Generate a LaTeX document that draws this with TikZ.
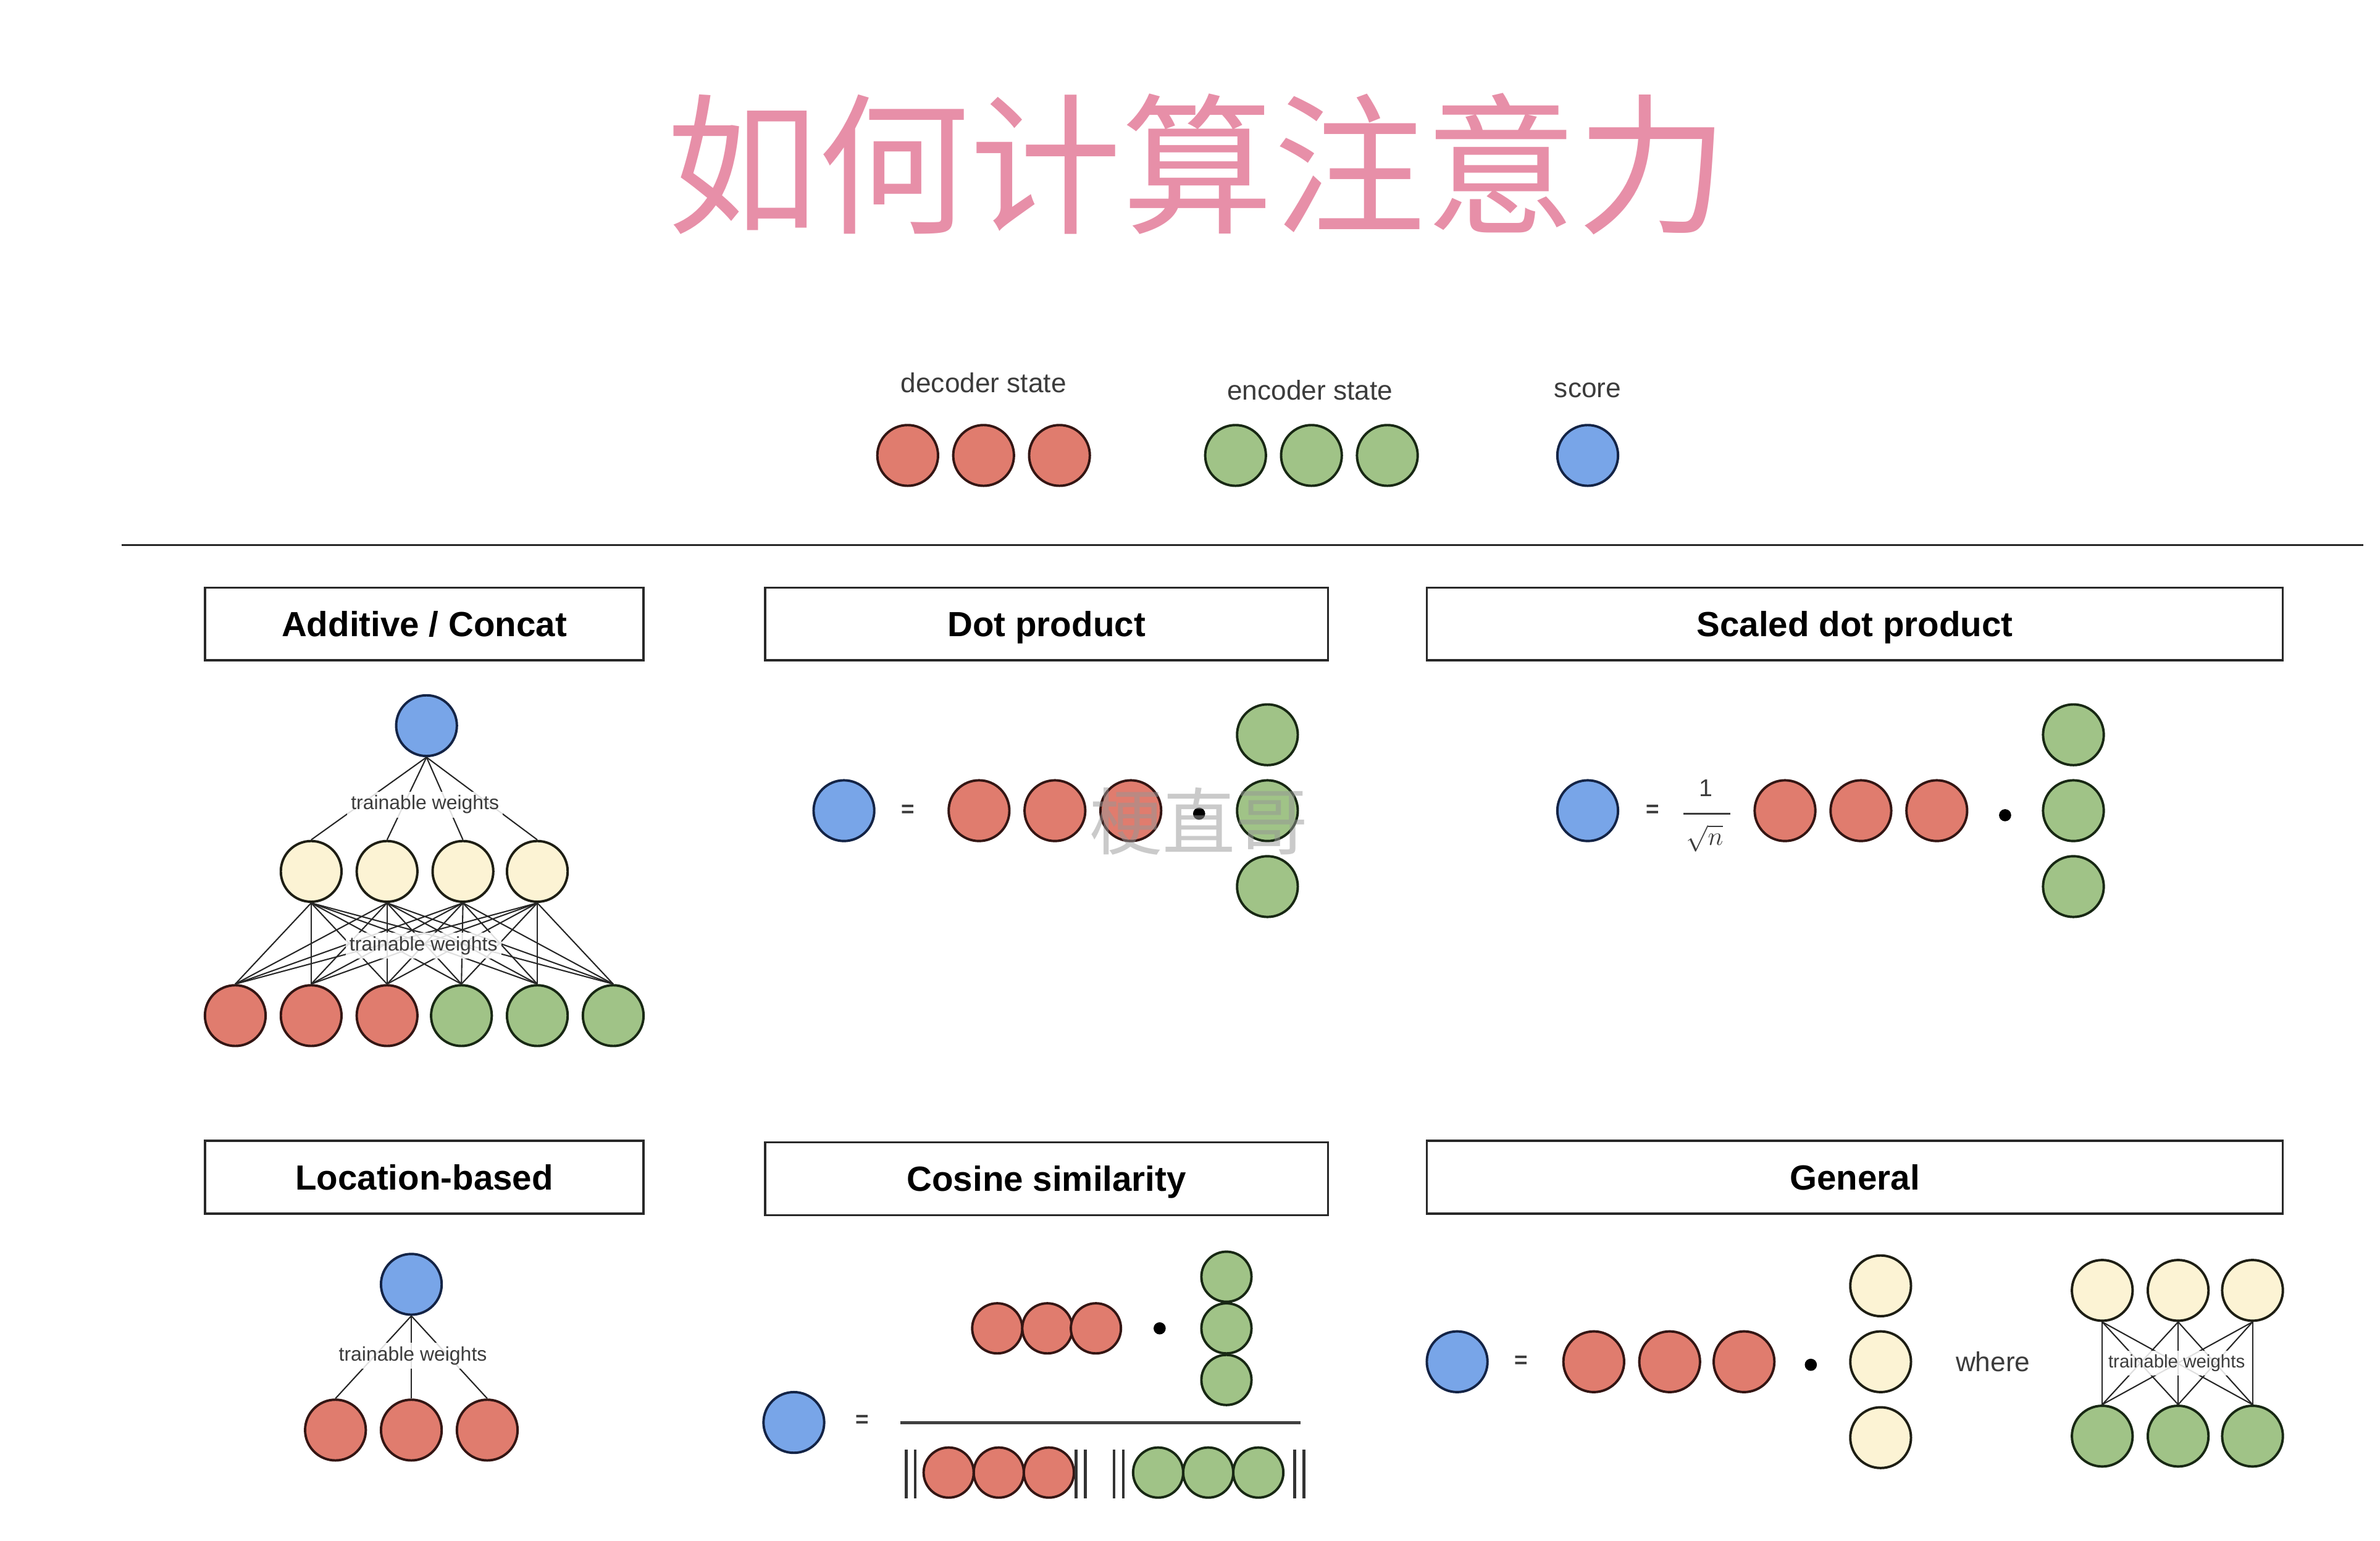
\documentclass[tikz,border=0pt]{standalone}
\usepackage{fontspec}
\setmainfont{Liberation Sans}
\newfontfamily\cjkfont{Noto Sans CJK SC}
\definecolor{titlepink}{RGB}{231,143,168}
\definecolor{redfill}{RGB}{224,124,110}
\definecolor{redline}{RGB}{52,22,20}
\definecolor{greenfill}{RGB}{160,195,135}
\definecolor{greenline}{RGB}{24,40,20}
\definecolor{bluefill}{RGB}{120,165,232}
\definecolor{blueline}{RGB}{20,36,70}
\definecolor{yellowfill}{RGB}{252,243,212}
\definecolor{yellowline}{RGB}{30,30,20}
\definecolor{boxline}{RGB}{40,40,40}
\definecolor{labelgray}{RGB}{60,60,60}
\definecolor{markgray}{RGB}{150,150,150}
\tikzset{
  unit/.style={circle, line width=1.6pt, minimum size=40pt, inner sep=0pt},
  dec/.style={unit, fill=redfill, draw=redline},
  enc/.style={unit, fill=greenfill, draw=greenline},
  sco/.style={unit, fill=bluefill, draw=blueline},
  hid/.style={unit, fill=yellowfill, draw=yellowline},
  tiny/.style={minimum size=33pt},
  panel/.style={draw=boxline, line width=1.4pt, minimum height=48pt, inner sep=0pt,
    text height=20pt, text depth=3.5pt,
    font=\bfseries\fontsize{23}{23}\selectfont},
  legend/.style={font=\fontsize{18}{18}\selectfont, text=labelgray},
  wlabel/.style={fill=white, fill opacity=0.85, text opacity=1, inner sep=2.5pt,
    font=\fontsize{13}{13}\selectfont, text=labelgray},
  link/.style={line width=0.85pt, draw=black!85},
  eqsign/.style={font=\bfseries\fontsize{15}{15}\selectfont, text=labelgray, inner sep=0pt},
  dotop/.style={circle, fill=black, minimum size=8pt, inner sep=0pt},
  norm/.style={line width=1.8pt, draw=black!80},
}
\begin{document}
\begin{tikzpicture}[x=1pt, y=-1pt]
\useasboundingbox[fill=white] (0,0) rectangle (1568,1015);

% title
\node[font=\cjkfont\fontsize{100}{100}\selectfont, text=titlepink] (title) at (789,108) {如何计算注意力};

% legend
\node[legend] (lgDec) at (648,252) {decoder state};
\node[legend] (lgEnc) at (863,257) {encoder state};
\node[legend] (lgSco) at (1046,257) {score};
\foreach \x [count=\i] in {598,648,698} \node[dec] (lgD\i) at (\x,300) {};
\foreach \x [count=\i] in {814,864,914} \node[enc] (lgE\i) at (\x,300) {};
\node[sco] (lgS) at (1046,300) {};

\coordinate (ruleL) at (80,359);
\coordinate (ruleR) at (1557,359);
\draw[line width=1.4pt, draw=black!85] (ruleL) -- (ruleR);

% panel headings
\node[panel, minimum width=289pt] (hAdd) at (279.5,411) {Additive / Concat};
\node[panel, minimum width=371pt] (hDot) at (689.5,411) {Dot product};
\node[panel, minimum width=564pt] (hScl) at (1222,411) {Scaled dot product};
\node[panel, minimum width=289pt] (hLoc) at (279.5,775.5) {Location-based};
\node[panel, minimum width=371pt] (hCos) at (689.5,776.5) {Cosine similarity};
\node[panel, minimum width=564pt] (hGen) at (1222,775.5) {General};

% Additive / Concat
\node[sco] (aS) at (281,478) {};
\foreach \x [count=\i] in {205,255,305,354} \node[hid] (aH\i) at (\x,574) {};
\foreach \x [count=\i] in {155,205,255} \node[dec] (aX\i) at (\x,669) {};
\foreach \x [count=\i from 4] in {304,354,404} \node[enc] (aX\i) at (\x,669) {};
\foreach \i in {1,...,4} \draw[link] (aS.south) -- (aH\i.north);
\foreach \i in {1,...,4} \foreach \j in {1,...,6} \draw[link] (aH\i.south) -- (aX\j.north);
\node[wlabel] (aW1) at (280,530) {trainable weights};
\node[wlabel] (aW2) at (279,623) {trainable weights};

% Dot product
\node[sco] (dS) at (556,534) {};
\node[eqsign] (dEq) at (598,534) {=};
\foreach \x [count=\i] in {645,695,745} \node[dec] (dD\i) at (\x,534) {};
\node[dotop] (dOp) at (790,536) {};
\foreach \y [count=\i] in {484,534,584} \node[enc] (dE\i) at (835,\y) {};
\node[font=\cjkfont\fontsize{48}{48}\selectfont, text=markgray, text opacity=0.5] (mark) at (790,541) {梗直哥};

% Scaled dot product
\node[sco] (sS) at (1046,534) {};
\node[eqsign] (sEq) at (1089,534) {=};
\node[font=\fontsize{16}{16}\selectfont, text=labelgray, inner sep=0pt] (sOne) at (1124,519) {1};
\coordinate (sBarL) at (1109,536);
\coordinate (sBarR) at (1140,536);
\draw[line width=1.3pt, draw=labelgray] (sBarL) -- (sBarR);
\node[font=\fontsize{19}{19}\selectfont, text=labelgray, inner sep=0pt, anchor=north] (sRoot) at (1123,543) {$\sqrt{n}$};
\foreach \x [count=\i] in {1176,1226,1276} \node[dec] (sD\i) at (\x,534) {};
\node[dotop] (sOp) at (1321,537) {};
\foreach \y [count=\i] in {484,534,584} \node[enc] (sE\i) at (1366,\y) {};

% Location-based
\node[sco] (lS) at (271,846) {};
\foreach \x [count=\i] in {221,271,321} \node[dec] (lD\i) at (\x,942) {};
\foreach \i in {1,...,3} \draw[link] (lS.south) -- (lD\i.north);
\node[wlabel] (lW) at (272,893) {trainable weights};

% Cosine similarity
\foreach \x [count=\i] in {657,690,722} \node[dec, tiny] (cN\i) at (\x,875) {};
\node[dotop] (cOp) at (764,875) {};
\foreach \y [count=\i] in {841,875,909} \node[enc, tiny] (cE\i) at (808,\y) {};
\node[sco] (cS) at (523,937) {};
\node[eqsign] (cEq) at (568,936) {=};
\coordinate (cBarL) at (593,937);
\coordinate (cBarR) at (857,937);
\draw[line width=2pt, draw=black!75] (cBarL) -- (cBarR);
\foreach \x [count=\i] in {625,658,691} \node[dec, tiny] (cDd\i) at (\x,970) {};
\foreach \x [count=\i] in {763,796,829} \node[enc, tiny] (cDe\i) at (\x,970) {};
\foreach \x in {597,603,709,715,734,740,853,859}
  \draw[norm] (\x,955) -- (\x,987);

% General
\node[sco] (gS) at (960,897) {};
\node[eqsign] (gEq) at (1002,897) {=};
\foreach \x [count=\i] in {1050,1100,1149} \node[dec] (gD\i) at (\x,897) {};
\node[dotop] (gOp) at (1193,899) {};
\foreach \y [count=\i] in {847,897,947} \node[hid] (gH\i) at (1239,\y) {};
\node[legend] (gWhere) at (1313,897) {where};
\foreach \x [count=\i] in {1385,1435,1484} \node[hid] (gT\i) at (\x,850) {};
\foreach \x [count=\i] in {1385,1435,1484} \node[enc] (gB\i) at (\x,946) {};
\foreach \i in {1,...,3} \foreach \j in {1,...,3} \draw[link] (gT\i.south) -- (gB\j.north);
\node[wlabel, font=\fontsize{12}{12}\selectfont] (gW) at (1434,898) {trainable weights};
\end{tikzpicture}
\end{document}
